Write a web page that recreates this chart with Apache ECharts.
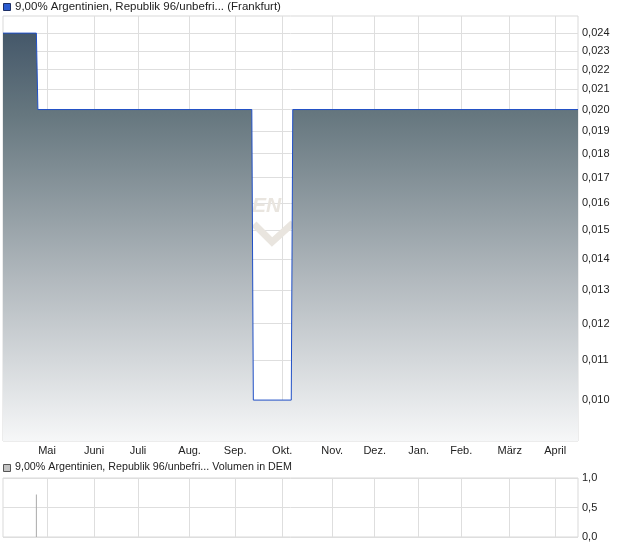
<!DOCTYPE html>
<html><head><meta charset="utf-8">
<script src="https://cdn.jsdelivr.net/npm/echarts@6/dist/echarts.min.js"></script>
<style>html,body{margin:0;padding:0;background:#fff}#c{width:620px;height:546px}</style>
</head><body><div id="c"></div>
<script>
// ---- data ----
const priceDates  = ['2000-04-02','2000-04-24','2000-04-25','2000-09-13','2000-09-14','2000-10-09','2000-10-10','2001-04-16'];
const priceValues = [0.024, 0.024, 0.020, 0.020, 0.010, 0.010, 0.020, 0.020];
const volumeDates  = ['2000-04-24'];
const volumeValues = [0.72];
const monthTickDates = ['2000-05-01','2000-06-01','2000-06-30','2000-08-03','2000-09-02','2000-10-03','2000-11-05','2000-12-03','2001-01-01','2001-01-29','2001-03-02','2001-04-01'];
const monthLabels = ['Mai','Juni','Juli','Aug.','Sep.','Okt.','Nov.','Dez.','Jan.','Feb.','März','April'];
const priceTicks = [0.010,0.011,0.012,0.013,0.014,0.015,0.016,0.017,0.018,0.019,0.020,0.021,0.022,0.023,0.024];
const volumeTicks = [0, 0.5, 1.0];
const rangeStart = '2000-04-02', rangeEnd = '2001-04-16';
const priceMin = 0.00907, priceMax = 0.025;
const titlePrice = '9,00% Argentinien, Republik 96/unbefri... (Frankfurt)';
const titleVolume = '9,00% Argentinien, Republik 96/unbefri... Volumen in DEM';

// ---- helpers ----
const DAY = 86400000;
function dayNo(s){const p=s.split('-').map(Number);return Math.round(Date.UTC(p[0],p[1]-1,p[2])/DAY);}
const tickDays = monthTickDates.map(dayNo);
const FONT = 'Liberation Sans, Arial, sans-serif';
const lg = Math.log10;

const chart = echarts.init(document.getElementById('c'), null, {renderer:'canvas'});
const xCommon = {
  type:'value', min: dayNo(rangeStart), max: dayNo(rangeEnd),
  axisLine:{show:false}, axisTick:{show:false, customValues: tickDays},
  splitLine:{show:true, lineStyle:{color:'#dedede', width:1}}
};
chart.setOption({
  animation:false,
  grid:[
    {left:3, right:42, top:16, bottom:105, show:true, borderColor:'#d9d9d9', borderWidth:1},
    {left:3, right:42, top:478, bottom:9, show:true, borderColor:'#d9d9d9', borderWidth:1}
  ],
  xAxis:[
    Object.assign({gridIndex:0, axisLabel:{show:true, customValues: tickDays, margin:4, color:'#222', fontFamily:FONT, fontSize:11, hideOverlap:false,
      formatter:(v)=>{const i=tickDays.indexOf(Math.round(v));return i>=0?monthLabels[i]:'';}}}, xCommon),
    Object.assign({gridIndex:1, axisLabel:{show:false}}, xCommon)
  ],
  yAxis:[
    {gridIndex:0, type:'value', position:'right', min: lg(priceMin), max: lg(priceMax),
     axisLine:{show:false}, axisTick:{show:false, customValues: priceTicks.map(lg)},
     axisLabel:{customValues: priceTicks.map(lg), margin:4, color:'#222', fontFamily:FONT, fontSize:11,
       formatter:(v)=>Math.pow(10,v).toFixed(3).replace('.',',')},
     splitLine:{show:true, lineStyle:{color:'#dedede'}}},
    {gridIndex:1, type:'value', position:'right', min:0, max:1, interval:0.5,
     axisLine:{show:false}, axisTick:{show:false},
     axisLabel:{margin:4, color:'#222', fontFamily:FONT, fontSize:11,
       formatter:(v)=>v.toFixed(1).replace('.',',')},
     splitLine:{show:true, lineStyle:{color:'#dedede'}}}
  ],
  graphic:[
    {type:'text', left:252, top:196, z:1, style:{text:'EN', font:'italic bold 21px '+FONT, fill:'#e9e5df'}},
    {type:'polyline', z:1, shape:{points:[[254,224],[272,242],[293,223]]}, style:{stroke:'#e9e5df', lineWidth:7, fill:null}},
    {type:'rect', z:10, shape:{x:3.5, y:3.5, width:7, height:7}, style:{fill:'#2a5bd0', stroke:'#1d2f66', lineWidth:1}},
    {type:'text', z:10, left:15, top:1, style:{text:titlePrice, font:'11.5px '+FONT, fill:'#222'}},
    {type:'rect', z:10, shape:{x:3.5, y:464.5, width:7, height:7}, style:{fill:'#c4c4c4', stroke:'#555', lineWidth:1}},
    {type:'text', z:10, left:15, top:462, style:{text:titleVolume, font:'10.7px '+FONT, fill:'#222'}}
  ],
  series:[
    {type:'line', xAxisIndex:0, yAxisIndex:0, symbol:'none', z:3,
     data: priceDates.map((d,i)=>[dayNo(d), lg(priceValues[i])]),
     lineStyle:{color:'#1f4fc6', width:1},
     areaStyle:{origin:'start', opacity:1, color:new echarts.graphic.LinearGradient(0,0,0,1,[
       {offset:0, color:'#45586a'},{offset:0.2,color:'#66777f'},{offset:0.6,color:'#b1b8bd'},{offset:1, color:'#f6f7f8'}])}},
    {type:'bar', xAxisIndex:1, yAxisIndex:1, barWidth:1, z:3,
     data: volumeDates.map((d,i)=>[dayNo(d), volumeValues[i]]),
     itemStyle:{color:'#aaaaaa'}}
  ]
});
</script></body></html>
